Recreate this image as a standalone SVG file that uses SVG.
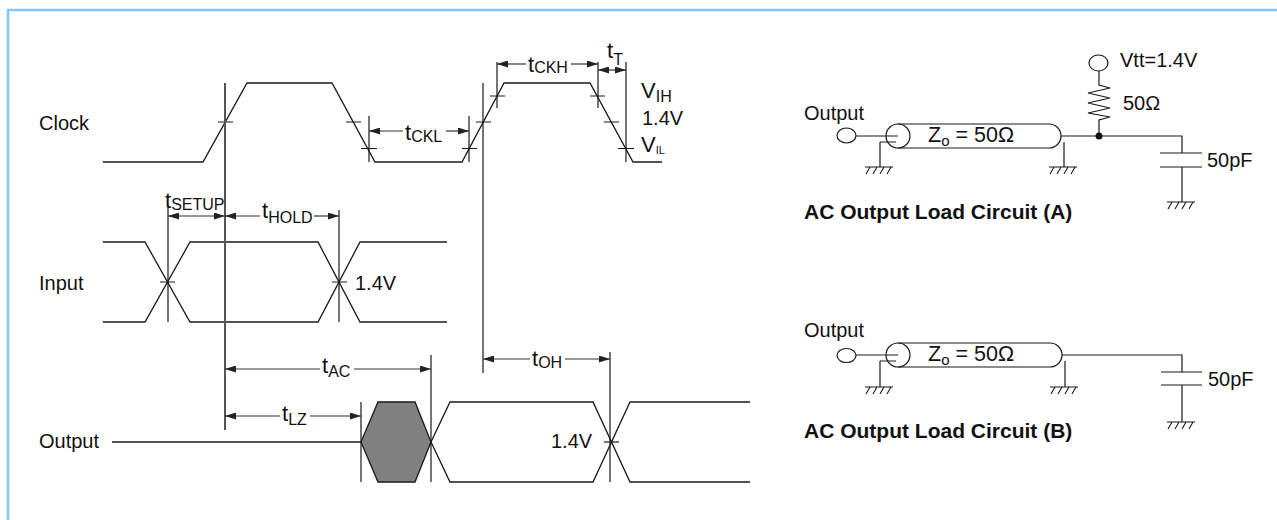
<svg xmlns="http://www.w3.org/2000/svg" width="1277" height="520" viewBox="0 0 1277 520">
<defs>
<style>
.w{fill:none;stroke:#1a1a1a;stroke-width:1.3;stroke-linejoin:miter}
.v{fill:none;stroke:#1a1a1a;stroke-width:1.2}
.a{fill:none;stroke:#333;stroke-width:1.2}
.t{font-family:"Liberation Sans",Arial,Helvetica,sans-serif;font-size:20px;fill:#111}
.tm{font-family:"Liberation Sans",Arial,Helvetica,sans-serif;font-size:22px;fill:#111}
.z{font-family:"Liberation Sans",Arial,Helvetica,sans-serif;font-size:21.5px;fill:#111}
.b{font-family:"Liberation Sans",Arial,Helvetica,sans-serif;font-size:21px;font-weight:bold;fill:#111}
.s{font-size:16px}
.gnd{fill:none;stroke:#1a1a1a;stroke-width:1.1}
</style>
<marker id="ah" viewBox="0 0 11 7" refX="11" refY="3.5" markerWidth="11" markerHeight="7" markerUnits="userSpaceOnUse" orient="auto-start-reverse">
<path d="M0,0 L11,3.5 L0,7 z" fill="#222"/>
</marker>
<g id="ground">
<path class="gnd" d="M-14,0 H14 M-9,0 l-4,7 M-2,0 l-4,7 M5,0 l-4,7 M12,0 l-4,7"/>
</g>
</defs>

<g id="border">
<path d="M8,520 V10 H1277" fill="none" stroke="#80c8ff" stroke-width="2.5"/>
</g>

<g id="labels">
<text class="t" x="39" y="130">Clock</text>
<text class="t" x="39" y="290">Input</text>
<text class="t" x="39" y="448">Output</text>
</g>

<g id="clock-waveform">
<path class="w" d="M103,162 H203 L247,83 H332 L375,162 H462 L504,83 H590 L633,162 H662"/>
<path class="v" d="M218,122 H233 M346,122 H361 M361,148.5 H377 M462,148.5 H477 M476,122 H491 M490,96 H505 M590,96 H605 M604,122 H619 M618,148.5 H634"/>
<text class="tm" x="641" y="98">V<tspan class="s" dy="4">IH</tspan></text>
<text class="t" x="642" y="125">1.4V</text>
<text class="tm" x="641" y="152">V<tspan font-size="11" dy="2">IL</tspan></text>
</g>

<g id="input-waveform">
<path class="w" d="M103,242 H145 L190,322 H318 L360,242 H447 M103,322 H145 L190,242 H318 L360,322 H447"/>
<path class="v" d="M160,282 H175 M332,282 H347"/>
<text class="t" x="355" y="290">1.4V</text>
</g>

<g id="output-waveform">
<path class="w" d="M112,442 H361"/>
<path d="M361,442 L378,402 H415 L431,442 L415,482 H378 Z" fill="#808080" stroke="#1a1a1a" stroke-width="1.3"/>
<path class="w" d="M431,442 L450,402 H593 L630,482 H750 M431,442 L450,482 H593 L630,402 H750"/>
<path class="v" d="M604,442 H619"/>
<text class="t" x="551" y="448">1.4V</text>
</g>

<g id="connectors">
<path d="M225,83 V430" fill="none" stroke="#555" stroke-width="2"/>
<path class="v" d="M369,116 V162 M469,116 V162 M483,83 V373 M497,62 V108 M598,62 V108 M626,62 V162 M168,205 V322 M339,210 V322 M361,402 V482 M431,355 V482 M610,352 V482"/>
<line class="a" x1="403" y1="131" x2="369" y2="131" marker-end="url(#ah)"/>
<line class="a" x1="446" y1="131" x2="469" y2="131" marker-end="url(#ah)"/>
<line class="a" x1="526" y1="64" x2="497" y2="64" marker-end="url(#ah)"/>
<line class="a" x1="571" y1="64" x2="598" y2="64" marker-end="url(#ah)"/>
<line class="a" x1="598" y1="70" x2="626" y2="70" marker-start="url(#ah)" marker-end="url(#ah)"/>
<line class="a" x1="168" y1="216" x2="225" y2="216" marker-start="url(#ah)" marker-end="url(#ah)"/>
<line class="a" x1="260" y1="216" x2="225" y2="216" marker-end="url(#ah)"/>
<line class="a" x1="314" y1="216" x2="339" y2="216" marker-end="url(#ah)"/>
<line class="a" x1="320" y1="369" x2="225" y2="369" marker-end="url(#ah)"/>
<line class="a" x1="354" y1="369" x2="431" y2="369" marker-end="url(#ah)"/>
<line class="a" x1="280" y1="416" x2="225" y2="416" marker-end="url(#ah)"/>
<line class="a" x1="310" y1="416" x2="361" y2="416" marker-end="url(#ah)"/>
<line class="a" x1="530" y1="359" x2="483" y2="359" marker-end="url(#ah)"/>
<line class="a" x1="565" y1="359" x2="610" y2="359" marker-end="url(#ah)"/>
<text class="tm" x="405" y="140">t<tspan class="s" dy="2">CKL</tspan></text>
<text class="tm" x="528" y="72">t<tspan class="s" dy="1">CKH</tspan></text>
<text class="tm" x="607" y="58">t<tspan class="s" dy="7">T</tspan></text>
<text class="tm" x="165" y="208">t<tspan class="s" dy="2">SETUP</tspan></text>
<text class="tm" x="262" y="218">t<tspan class="s" dy="5">HOLD</tspan></text>
<text class="tm" x="322" y="373">t<tspan class="s" dy="4">AC</tspan></text>
<text class="tm" x="282" y="421">t<tspan class="s" dy="4">LZ</tspan></text>
<text class="tm" x="532" y="366">t<tspan class="s" dy="2">OH</tspan></text>
</g>

<g id="circuit-a">
<text class="t" x="804" y="120">Output</text>
<ellipse cx="846.5" cy="135.5" rx="9.5" ry="7.5" class="v"/>
<path class="v" d="M856,136 H898 M880,142 H896 M880,142 V167"/>
<circle cx="898" cy="136" r="12" class="v"/>
<path class="v" d="M898,124 H1049 A12,12 0 0 1 1049,148 H898"/>
<text class="z" x="928" y="142">Z<tspan font-size="15" dy="4">o</tspan><tspan dy="-4"> = 50Ω</tspan></text>
<path class="v" d="M1064,142 V167"/>
<use href="#ground" x="879" y="167"/>
<use href="#ground" x="1063" y="167"/>
<path class="v" d="M1061,136 H1182 V153 M1160,153 H1202 M1160,167 H1202 M1182,167 V202"/>
<use href="#ground" x="1181" y="202"/>
<ellipse cx="1098.5" cy="63" rx="9.5" ry="8" class="v"/>
<path class="v" d="M1099,71 V85 L1110,88 L1088,93 L1110,98 L1088,103 L1110,108 L1088,113 L1110,117 L1099,120 V136"/>
<circle cx="1099" cy="136" r="3.5" fill="#111"/>
<text class="t" x="1120" y="67">Vtt=1.4V</text>
<text class="t" x="1123" y="110">50Ω</text>
<text class="t" x="1207" y="167">50pF</text>
<text class="b" x="804" y="219">AC Output Load Circuit (A)</text>
</g>

<g id="circuit-b">
<text class="t" x="804" y="337">Output</text>
<ellipse cx="846.5" cy="355.5" rx="9.5" ry="7" class="v"/>
<path class="v" d="M856,355 H898 M880,361 H896 M880,361 V387"/>
<circle cx="898" cy="355" r="12" class="v"/>
<path class="v" d="M898,343 H1050 A12,12 0 0 1 1050,367 H898"/>
<text class="z" x="928" y="361">Z<tspan font-size="15" dy="4">o</tspan><tspan dy="-4"> = 50Ω</tspan></text>
<path class="v" d="M1065,361 V387"/>
<use href="#ground" x="879" y="387"/>
<use href="#ground" x="1064" y="387"/>
<path class="v" d="M1062,355 H1182 V372 M1161,372 H1202 M1161,385 H1202 M1182,385 V422"/>
<use href="#ground" x="1181" y="422"/>
<text class="t" x="1208" y="386">50pF</text>
<text class="b" x="804" y="438">AC Output Load Circuit (B)</text>
</g>
</svg>
